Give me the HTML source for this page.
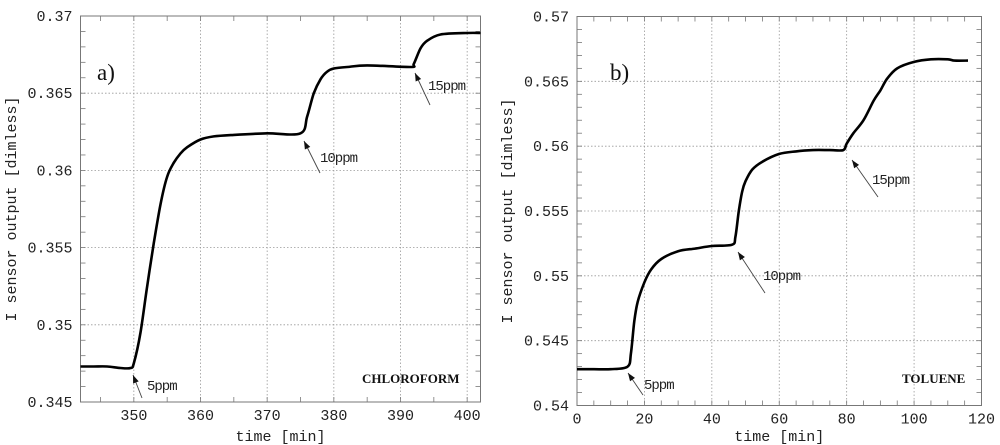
<!DOCTYPE html>
<html><head><meta charset="utf-8">
<style>
html,body{margin:0;padding:0;background:#fff;}
svg{display:block;}
.tk{font-family:"Liberation Mono",monospace;font-size:15px;fill:#222;}
.ann{font-family:"Liberation Mono",monospace;font-size:14px;fill:#222;letter-spacing:-1px;}
.pl{font-family:"Liberation Serif",serif;font-size:23px;fill:#111;}
.gas{font-family:"Liberation Serif",serif;font-size:13px;font-weight:bold;fill:#111;}
</style></head>
<body>
<svg id="svg" width="1000" height="445" viewBox="0 0 1000 445" xmlns="http://www.w3.org/2000/svg"></svg>
<script>
// Panel a) chloroform
const timeA = [342,344,346,348,349.5,350,351,352,353,354,355,356,357,358,360,362,365,370,375,376,377,378,379,380,382,385,391.5,392,393,394,396,400,402];
const outA  = [0.3473,0.3473,0.3473,0.3472,0.3472,0.3475,0.3495,0.3525,0.3553,0.3578,0.3596,0.3605,0.3611,0.3615,0.3620,0.3622,0.3623,0.3624,0.3624,0.3635,0.3650,0.3659,0.3664,0.3666,0.3667,0.3668,0.3667,0.3669,0.3679,0.3684,0.3688,0.3689,0.3689];
const xTicksA = [350,360,370,380,390,400];
const yTicksA = [0.345,0.35,0.355,0.36,0.365,0.37];
const yLabelsA = ["0.345","0.35","0.355","0.36","0.365","0.37"];
// Panel b) toluene
const timeB = [0,5,10,15,16,17,18,20,22,25,30,35,40,46,47,48,49,50,52,55,60,65,70,75,79,80,82,85,88,90,92,95,100,105,110,112,116];
const outB  = [0.5428,0.5428,0.5428,0.5430,0.5440,0.5465,0.5480,0.5495,0.5505,0.5513,0.5519,0.5521,0.5523,0.5524,0.5530,0.5550,0.5565,0.5573,0.5582,0.5588,0.5594,0.5596,0.5597,0.5597,0.5597,0.5602,0.5610,0.5620,0.5635,0.5643,0.5652,0.5660,0.5665,0.5667,0.5667,0.5666,0.5666];
const xTicksB = [0,20,40,60,80,100,120];
const yTicksB = [0.54,0.545,0.55,0.555,0.56,0.565,0.57];
const yLabelsB = ["0.54","0.545","0.55","0.555","0.56","0.565","0.57"];

const NS="http://www.w3.org/2000/svg";
const svg=document.getElementById('svg');
function mk(tag,attrs,parent,text){const e=document.createElementNS(NS,tag);for(const k in attrs)e.setAttribute(k,attrs[k]);if(text!==undefined)e.textContent=text;(parent||svg).appendChild(e);return e;}

function smoothPath(pts){
  let d='M'+pts[0][0].toFixed(1)+','+pts[0][1].toFixed(1);
  for(let i=0;i<pts.length-1;i++){
    const p0=pts[Math.max(0,i-1)],p1=pts[i],p2=pts[i+1],p3=pts[Math.min(pts.length-1,i+2)];
    const t=0.16;
    const c1=[p1[0]+(p2[0]-p0[0])*t,p1[1]+(p2[1]-p0[1])*t];
    const c2=[p2[0]-(p3[0]-p1[0])*t,p2[1]-(p3[1]-p1[1])*t];
    d+=` C${c1[0].toFixed(1)},${c1[1].toFixed(1)} ${c2[0].toFixed(1)},${c2[1].toFixed(1)} ${p2[0].toFixed(1)},${p2[1].toFixed(1)}`;
  }
  return d;
}

function panel(cfg){
  const g=mk('g',{});
  
  
  const {L,R,T,B,x0,x1,y0,y1}=cfg;
  const sx=v=>L+(v-x0)/(x1-x0)*(R-L);
  const sy=v=>B-(v-y0)/(y1-y0)*(B-T);
  cfg.xTicks.forEach(v=>{const X=sx(v);if(X>L+1&&X<R-1){const l=mk('line',{x1:X,x2:X,y1:T,y2:B,stroke:'#999','stroke-width':0.8,'stroke-dasharray':'1.5,2'},g);}});
  cfg.yTicks.forEach(v=>{const Y=sy(v);if(Y>T+1&&Y<B-1){const l=mk('line',{x1:L,x2:R,y1:Y,y2:Y,stroke:'#999','stroke-width':0.8,'stroke-dasharray':'1.5,2'},g);}});
  const ystep=(cfg.yTicks[1]-cfg.yTicks[0])/5;
  for(let v=y0;v<=y1+1e-9;v+=ystep){const Y=sy(v);mk('line',{x1:L,x2:L+5,y1:Y,y2:Y,stroke:'#777','stroke-width':0.8},g);mk('line',{x1:R-5,x2:R,y1:Y,y2:Y,stroke:'#777','stroke-width':0.8},g);}
  const xstep=(cfg.xTicks[1]-cfg.xTicks[0])/cfg.xMinor;
  for(let v=cfg.xTicks[0]-Math.floor((cfg.xTicks[0]-x0)/xstep)*xstep;v<=x1+1e-9;v+=xstep){const X=sx(v);mk('line',{x1:X,x2:X,y1:B,y2:B-5,stroke:'#777','stroke-width':0.8},g);mk('line',{x1:X,x2:X,y1:T,y2:T+5,stroke:'#777','stroke-width':0.8},g);}
  const f=mk('rect',{x:L,y:T,width:R-L,height:B-T,fill:'none',stroke:'#777','stroke-width':1},g);
  
  cfg.xTicks.forEach(v=>{const t=mk('text',{x:sx(v),y:B+18,'text-anchor':'middle',class:'tk'},g,String(v));});
  cfg.yTicks.forEach((v,i)=>{const t=mk('text',{x:L-8,y:sy(v)+5,'text-anchor':'end',class:'tk'},g,cfg.yLabels[i]);});
  const xt=mk('text',{x:(L+R)/2,y:441,'text-anchor':'middle',class:'tk'},g,'time [min]');
  
  const yt=mk('text',{x:0,y:0,'text-anchor':'middle',class:'tk',transform:`translate(${cfg.ytx},${(T+B)/2}) rotate(-90)`},g,'I sensor output [dimless]');
  
  const pts=cfg.xs.map((v,i)=>[sx(v),sy(cfg.ys[i])]);
  const p=mk('path',{d:smoothPath(pts),fill:'none',stroke:'#000','stroke-width':2.6,'stroke-linejoin':'round'},g);
  
  cfg.anns.forEach(a=>{
    const ag=mk('g',{},g);
    
    mk('line',{x1:a.tail[0],y1:a.tail[1],x2:a.tip[0],y2:a.tip[1],stroke:'#444','stroke-width':0.9},ag);
    const dx=a.tip[0]-a.tail[0],dy=a.tip[1]-a.tail[1],len=Math.hypot(dx,dy),ux=dx/len,uy=dy/len;
    const bx=a.tip[0]-ux*8,by=a.tip[1]-uy*8;
    mk('polygon',{points:`${a.tip[0]},${a.tip[1]} ${bx-uy*3},${by+ux*3} ${bx+uy*3},${by-ux*3}`,fill:'#111'},ag);
    mk('text',{x:a.lx,y:a.ly,class:'ann'},ag,a.t);
  });
  const pl=mk('text',{x:cfg.plx,y:80,class:'pl'},g,cfg.pl);
  
  const gs=mk('text',{x:cfg.gx,y:383,class:'gas'},g,cfg.gas);
  
}

panel({name:'chart-chloroform',L:80.5,R:480.5,T:16,B:402,x0:342,x1:402,y0:0.345,y1:0.37,
  xTicks:xTicksA,yTicks:yTicksA,yLabels:yLabelsA,xMinor:2,xs:timeA,ys:outA,ytx:16,
  anns:[{t:'5ppm',tip:[133,375],tail:[142,398],lx:147,ly:390},{t:'10ppm',tip:[304,141],tail:[320,173],lx:320,ly:162},{t:'15ppm',tip:[415,73],tail:[430,105],lx:428,ly:90}],
  pl:'a)',plx:97,gas:'CHLOROFORM',gx:362});
panel({name:'chart-toluene',L:577,R:981.5,T:16.5,B:405.5,x0:0,x1:120,y0:0.54,y1:0.57,
  xTicks:xTicksB,yTicks:yTicksB,yLabels:yLabelsB,xMinor:4,xs:timeB,ys:outB,ytx:512,
  anns:[{t:'5ppm',tip:[628,373],tail:[643,395],lx:644,ly:389},{t:'10ppm',tip:[738,252],tail:[765,293],lx:763,ly:280},{t:'15ppm',tip:[852,160],tail:[878,197],lx:872,ly:184}],
  pl:'b)',plx:610,gas:'TOLUENE',gx:902});
</script>
</body></html>
